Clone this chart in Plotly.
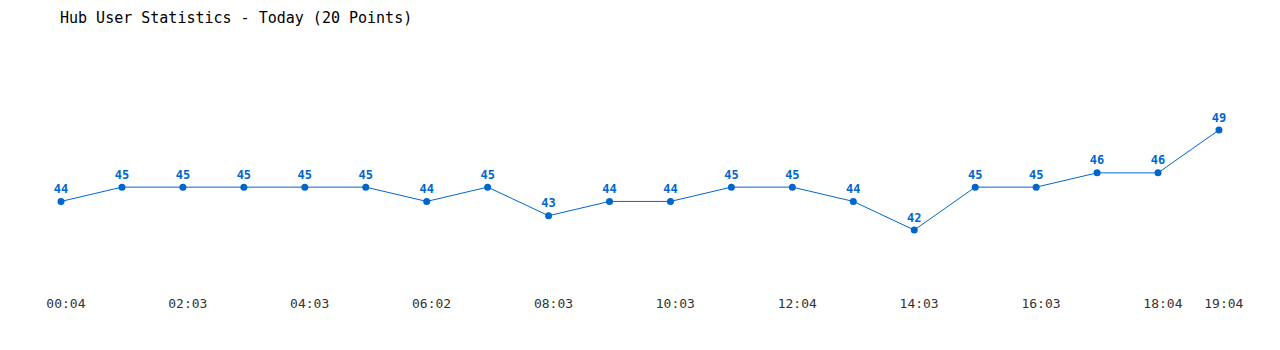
import plotly.graph_objects as go

times = ["00:04", "01:03", "02:03", "03:03", "04:03", "05:03", "06:02", "07:03", "08:03", "09:03",
         "10:03", "11:03", "12:04", "13:03", "14:03", "15:03", "16:03", "17:03", "18:04", "19:04"]
users = [44, 45, 45, 45, 45, 45, 44, 45, 43, 44, 44, 45, 45, 44, 42, 45, 45, 46, 46, 49]
tick_idx = [0, 2, 4, 6, 8, 10, 12, 14, 16, 18, 19]

x = list(range(len(users)))
color = "#0066cc"

fig = go.Figure(go.Scatter(
    x=x, y=users, mode="lines+markers+text",
    line=dict(color=color, width=1),
    marker=dict(color=color, size=7),
    text=[str(v) for v in users], textposition="top center",
    textfont=dict(family="DejaVu Sans Mono, monospace", size=12, color=color, weight="bold"),
    cliponaxis=False, hoverinfo="skip",
))

fig.update_layout(
    width=1280, height=350,
    margin=dict(l=40, r=40, t=40, b=60),
    paper_bgcolor="white", plot_bgcolor="white",
    showlegend=False,
    title=dict(text="Hub User Statistics - Today (20 Points)", x=60/1280, xanchor="left",
               y=1 - 18/350, yanchor="middle",
               font=dict(family="DejaVu Sans Mono, monospace", size=15, color="#000000")),
    xaxis=dict(range=[-0.345, 19.345], showgrid=False, zeroline=False, showline=False,
               tickmode="array", tickvals=[i + 0.08 for i in tick_idx],
               ticktext=[times[i] for i in tick_idx], ticks="", ticklabelstandoff=4,
               tickfont=dict(family="DejaVu Sans Mono, monospace", size=13, color="#333333")),
    yaxis=dict(range=[37.8, 55.3], visible=False),
)

fig.write_html("out.html")
